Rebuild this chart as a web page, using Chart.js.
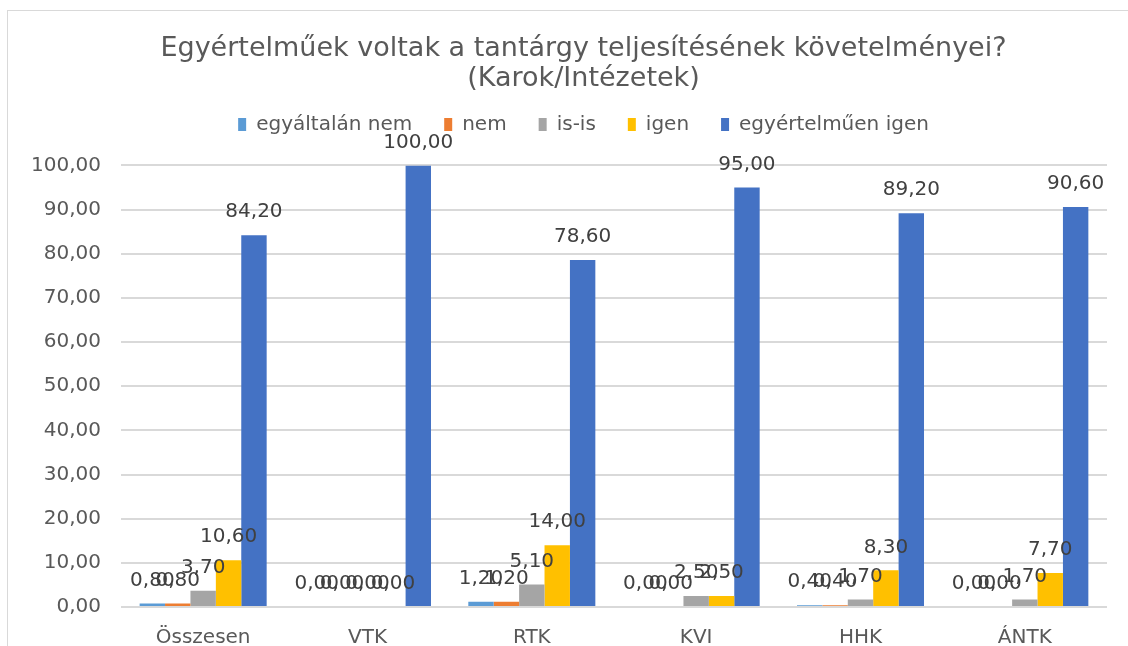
<!DOCTYPE html>
<html>
<head>
<meta charset="utf-8">
<script src="https://cdn.jsdelivr.net/npm/chart.js@4/dist/chart.umd.min.js"></script>
<style>
  html,body{margin:0;padding:0;background:#fff;overflow:hidden;width:1128px;height:646px;font-family:"DejaVu Sans"}
  #frame{position:absolute;left:7px;top:10px;width:1150px;height:680px;border:1px solid #d9d9d9;box-sizing:border-box}
  canvas{display:block}
</style>
</head>
<body>
<div id="frame"><canvas id="myChart" width="1148" height="668"></canvas></div>
<script>
  var categories = ["Összesen", "VTK", "RTK", "KVI", "HHK", "ÁNTK"]
  var seriesNames = ["egyáltalán nem", "nem", "is-is", "igen", "egyértelműen igen"]
  var egyaltalanNem = [0.80, 0.00, 1.20, 0.00, 0.40, 0.00]
  var nem = [0.80, 0.00, 1.20, 0.00, 0.40, 0.00]
  var isIs = [3.70, 0.00, 5.10, 2.50, 1.70, 1.70]
  var igen = [10.60, 0.00, 14.00, 2.50, 8.30, 7.70]
  var egyertelmuenIgen = [84.20, 100.00, 78.60, 95.00, 89.20, 90.60]
  var colors = ["#5B9BD5", "#ED7D31", "#A5A5A5", "#FFC000", "#4472C4"]

  function fmt(v){
    return v.toFixed(2).replace('.', ',')
  }

  // values above bars, like excel data labels
  var valueLabels = {
    id: 'valueLabels',
    afterDatasetsDraw: function(chart){
      var ctx = chart.ctx
      ctx.save()
      ctx.font = '20px "DejaVu Sans"'
      ctx.fillStyle = '#404040'
      ctx.textAlign = 'center'
      ctx.textBaseline = 'bottom'
      chart.data.datasets.forEach(function(ds, i){
        var meta = chart.getDatasetMeta(i)
        meta.data.forEach(function(bar, j){
          ctx.fillText(fmt(ds.data[j]), bar.x, bar.y - 13)
        })
      })
      ctx.restore()
    }
  }

  // empty layout boxes: one under the legend, one right of the plot
  function spacer(pos, size, full){
    return {
      position: pos,
      weight: 0,
      fullSize: full,
      options: {},
      isHorizontal: function(){ return pos == 'top' || pos == 'bottom' },
      update: function(maxWidth, maxHeight){
        if (this.isHorizontal()) { this.width = maxWidth; this.height = size }
        else { this.width = size; this.height = maxHeight }
      },
      draw: function(){}
    }
  }
  var gaps = {
    id: 'gaps',
    beforeInit: function(chart){
      Chart.layouts.addBox(chart, spacer('top', 21, true))
      Chart.layouts.addBox(chart, spacer('right', 49, false))
    }
  }

  var allData = [egyaltalanNem, nem, isIs, igen, egyertelmuenIgen]
  var datasets = allData.map(function(d, i){
    return {
      label: seriesNames[i],
      data: d,
      backgroundColor: colors[i],
      borderWidth: 0,
      categoryPercentage: 0.773,
      barPercentage: 1
    }
  })

  function draw(){
    Chart.defaults.font.family = '"DejaVu Sans"'
    var ctx = document.getElementById("myChart").getContext("2d")
    var myChart = new Chart(ctx, {
      type: 'bar',
      data: { labels: categories, datasets: datasets },
      plugins: [valueLabels, gaps],
      options: {
        responsive: false,
        animation: false,
        layout: { padding: { left: 3, right: 0, top: 0, bottom: 18 } },
        plugins: {
          title: {
            display: true,
            text: ["Egyértelműek voltak a tantárgy teljesítésének követelményei?", "(Karok/Intézetek)"],
            color: '#595959',
            font: { family: '"DejaVu Sans"', size: 27, weight: 'normal', lineHeight: 1.12 },
            padding: { top: 23, bottom: -12 }
          },
          legend: {
            position: 'top',
            labels: {
              color: '#595959',
              font: { family: '"DejaVu Sans"', size: 20 },
              boxWidth: 8,
              boxHeight: 13,
              padding: 32
            }
          },
          tooltip: { enabled: false }
        },
        scales: {
          x: {
            grid: { display: false },
            border: { display: false },
            ticks: { color: '#595959', font: { family: '"DejaVu Sans"', size: 20 }, padding: 11 }
          },
          y: {
            min: 0,
            max: 100,
            grid: { color: '#d9d9d9', lineWidth: 2, drawTicks: false },
            border: { display: false },
            ticks: {
              stepSize: 10,
              color: '#595959',
              font: { family: '"DejaVu Sans"', size: 20 },
              padding: 20,
              callback: function(v){ return fmt(v) }
            }
          }
        }
      }
    })
  }

  if (document.fonts && document.fonts.load) {
    document.fonts.load('20px "DejaVu Sans"').then(draw, draw)
  } else {
    draw()
  }
</script>
</body>
</html>
